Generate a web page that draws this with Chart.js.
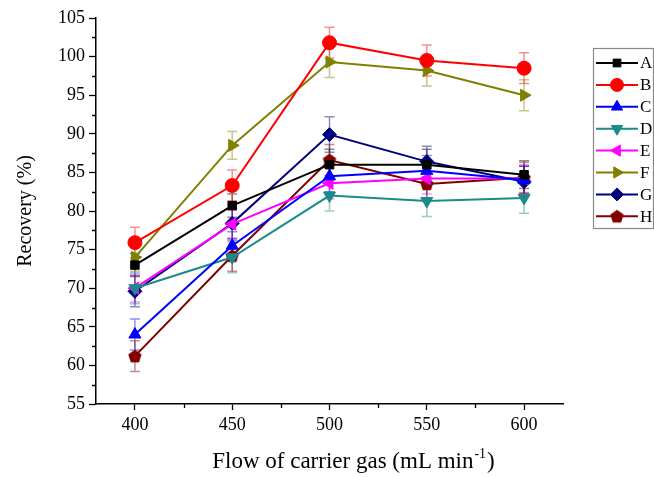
<!DOCTYPE html>
<html>
<head>
<meta charset="utf-8">
<script src="https://cdn.jsdelivr.net/npm/chart.js@4"></script>
<style>
  html, body { margin: 0; padding: 0; background: #fff; }
  #wrap { width: 654px; height: 477px; }
</style>
</head>
<body>
<div id="wrap"><canvas id="grafico"></canvas></div>
<script>
// flow of carrier gas (mL/min)
var flows = [400, 450, 500, 550, 600];
var xTicks = [400, 450, 500, 550, 600];
var xMinor = [425, 475, 525, 575];
var yMinor = [57.5, 62.5, 67.5, 72.5, 77.5, 82.5, 87.5, 92.5, 97.5, 102.5];

var names = ["A", "B", "C", "D", "E", "F", "G", "H"];
var recA = [73.0, 80.7, 86.0, 86.0, 84.7];
var recB = [75.9, 83.3, 101.8, 99.5, 98.5];
var recC = [64.0, 75.5, 84.5, 85.2, 84.0];
var recD = [70.0, 74.0, 82.0, 81.3, 81.7];
var recE = [70.0, 78.3, 83.6, 84.2, 84.2];
var recF = [74.0, 88.5, 99.3, 98.2, 95.0];
var recG = [69.6, 78.4, 89.9, 86.4, 83.8];
var recH = [61.2, 74.2, 86.6, 83.5, 84.3];

// error bars (+/-)
var errA = [1.5, 1.5, 2.0, 2.0, 1.8];
var errB = [2.0, 2.0, 2.0, 2.0, 2.0];
var errC = [2.0, 1.8, 2.0, 2.0, 1.8];
var errD = [2.0, 2.0, 2.0, 2.0, 2.0];
var errE = [1.8, 1.8, 2.0, 2.0, 1.8];
var errF = [1.8, 1.8, 2.0, 2.0, 2.0];
var errG = [2.0, 2.0, 2.3, 2.0, 2.0];
var errH = [2.0, 2.0, 2.0, 2.0, 2.0];

var valores = [recA, recB, recC, recD, recE, recF, recG, recH];
var errores = [errA, errB, errC, errD, errE, errF, errG, errH];
var colores = ["#000000", "#ff0000", "#0000ff", "#1a8a8a", "#ff00ff", "#808000", "#00007f", "#800000"];

// pentagon marker for H
function pentagono(color, r) {
    var c = document.createElement("canvas");
    var s = Math.ceil(r * 2 + 2);
    c.width = s; c.height = s;
    var g = c.getContext("2d");
    g.beginPath();
    for (var i = 0; i < 5; i++) {
        var a = -Math.PI / 2 + i * 2 * Math.PI / 5;
        var px = s / 2 + r * Math.cos(a), py = s / 2 + 0.5 + r * Math.sin(a);
        if (i == 0) g.moveTo(px, py); else g.lineTo(px, py);
    }
    g.closePath();
    g.fillStyle = color;
    g.fill();
    return c;
}

var estilos = ["rect", "circle", "triangle", "triangle", "triangle", "triangle", "rectRot", "pent"];
var rotaciones = [0, 0, 0, 180, -90, 90, 0, 0];
var radios = [6, 7, 7, 7, 7, 7, 7, 7];
var pent = pentagono("#800000", 7);

var datasets = names.map(function (n, k) {
    return {
        label: n,
        data: flows.map(function (f, i) { return { x: f, y: valores[k][i] }; }),
        errs: errores[k],
        borderColor: colores[k],
        backgroundColor: colores[k],
        borderWidth: 2,
        pointStyle: estilos[k] == "pent" ? pent : estilos[k],
        pointRotation: rotaciones[k],
        pointRadius: radios[k],
        pointBorderWidth: 1,
        tension: 0
    };
});

function drawMarker(ctx, k, x, y) {
    var st = estilos[k] == "pent" ? pent : estilos[k];
    if (st instanceof HTMLCanvasElement) {
        ctx.drawImage(st, x - st.width / 2, y - st.height / 2);
        return;
    }
    ctx.fillStyle = colores[k];
    ctx.strokeStyle = colores[k];
    ctx.lineWidth = 1;
    Chart.helpers.drawPoint(ctx, { pointStyle: st, radius: radios[k] - 0.5, rotation: rotaciones[k], borderWidth: 1 }, x, y);
}

var extras = {
    id: "extras",
    beforeDatasetsDraw: function (chart) {
        var ctx = chart.ctx, xs = chart.scales.x, ys = chart.scales.y;
        ctx.save();
        chart.data.datasets.forEach(function (ds, k) {
            ctx.strokeStyle = colores[k];
            ctx.globalAlpha = 0.45;
            ctx.lineWidth = 1.5;
            ds.data.forEach(function (p, i) {
                var px = xs.getPixelForValue(p.x);
                var top = ys.getPixelForValue(p.y + ds.errs[i]);
                var bot = ys.getPixelForValue(p.y - ds.errs[i]);
                ctx.beginPath();
                ctx.moveTo(px, top); ctx.lineTo(px, bot);
                ctx.moveTo(px - 5, top); ctx.lineTo(px + 5, top);
                ctx.moveTo(px - 5, bot); ctx.lineTo(px + 5, bot);
                ctx.stroke();
            });
        });
        ctx.restore();
    },
    afterDraw: function (chart) {
        var ctx = chart.ctx, xs = chart.scales.x, ys = chart.scales.y, area = chart.chartArea;
        ctx.save();
        // minor ticks
        ctx.strokeStyle = "#000";
        ctx.lineWidth = 1.3;
        ctx.beginPath();
        yMinor.forEach(function (v) {
            var py = Math.round(ys.getPixelForValue(v)) + 0.5;
            ctx.moveTo(area.left - 4, py); ctx.lineTo(area.left, py);
        });
        xMinor.forEach(function (v) {
            var px = Math.round(xs.getPixelForValue(v)) + 0.5;
            ctx.moveTo(px, area.bottom); ctx.lineTo(px, area.bottom + 4);
        });
        ctx.stroke();

        // x title with superscript
        ctx.fillStyle = "#000";
        ctx.textBaseline = "alphabetic";
        var f1 = "23px 'Liberation Serif'", f2 = "14px 'Liberation Serif'";
        var t1 = "Flow of carrier gas (mL min", t2 = "-1", t3 = ")";
        ctx.font = f1; var w1 = ctx.measureText(t1).width, w3 = ctx.measureText(t3).width;
        ctx.font = f2; var w2 = ctx.measureText(t2).width;
        var cx = (area.left + area.right) / 2 + 23;
        var x0 = cx - (w1 + w2 + w3) / 2, yb = 468;
        ctx.font = f1; ctx.fillText(t1, x0, yb);
        ctx.font = f2; ctx.fillText(t2, x0 + w1 + 1, yb - 10);
        ctx.font = f1; ctx.fillText(t3, x0 + w1 + w2 + 2, yb);

        // legend box
        var lx = 593, ly = 48, lw = 60, rowH = 21.9;
        ctx.strokeStyle = "#888";
        ctx.lineWidth = 1.2;
        ctx.strokeRect(lx + 0.5, ly + 0.5, lw, 180);
        ctx.font = "17px 'Liberation Serif'";
        ctx.textBaseline = "middle";
        names.forEach(function (n, k) {
            var yy = ly + 15 + k * rowH;
            ctx.strokeStyle = colores[k];
            ctx.lineWidth = 2;
            ctx.beginPath();
            ctx.moveTo(lx + 3, yy); ctx.lineTo(lx + 45, yy);
            ctx.stroke();
            drawMarker(ctx, k, lx + 24, yy);
            ctx.fillStyle = "#000";
            ctx.fillText(n, lx + 47, yy + 1);
        });
        ctx.restore();
    }
};

var ctx = document.getElementById("grafico");
var myChart = new Chart(ctx, {
    type: "line",
    data: { datasets: datasets },
    plugins: [extras],
    options: {
        responsive: true,
        maintainAspectRatio: false,
        animation: false,
        layout: { padding: { top: 18, right: 91, left: 0, bottom: 0 } },
        plugins: { legend: { display: false }, tooltip: { enabled: false } },
        scales: {
            x: {
                type: "linear",
                min: 380, max: 620,
                afterBuildTicks: function (s) { s.ticks = xTicks.map(function (v) { return { value: v }; }); },
                afterFit: function (s) { s.height = 73; },
                grid: { drawOnChartArea: false, tickLength: 6, tickColor: "#000", tickWidth: 1.3 },
                border: { color: "#000", width: 1.5 },
                ticks: { color: "#000", padding: 4, font: { family: "'Liberation Serif'", size: 18 } },
                title: { display: false }
            },
            y: {
                min: 55, max: 105,
                ticks: { stepSize: 5, color: "#000", padding: 4, font: { family: "'Liberation Serif'", size: 18 } },
                afterFit: function (s) { s.width = 96; },
                grid: { drawOnChartArea: false, tickLength: 7, tickColor: "#000", tickWidth: 1.3 },
                border: { color: "#000", width: 1.5 },
                title: { display: true, text: "Recovery (%)", color: "#000", padding: { top: 14, bottom: 0 },
                         font: { family: "'Liberation Serif'", size: 20 } }
            }
        }
    }
});
</script>
</body>
</html>
